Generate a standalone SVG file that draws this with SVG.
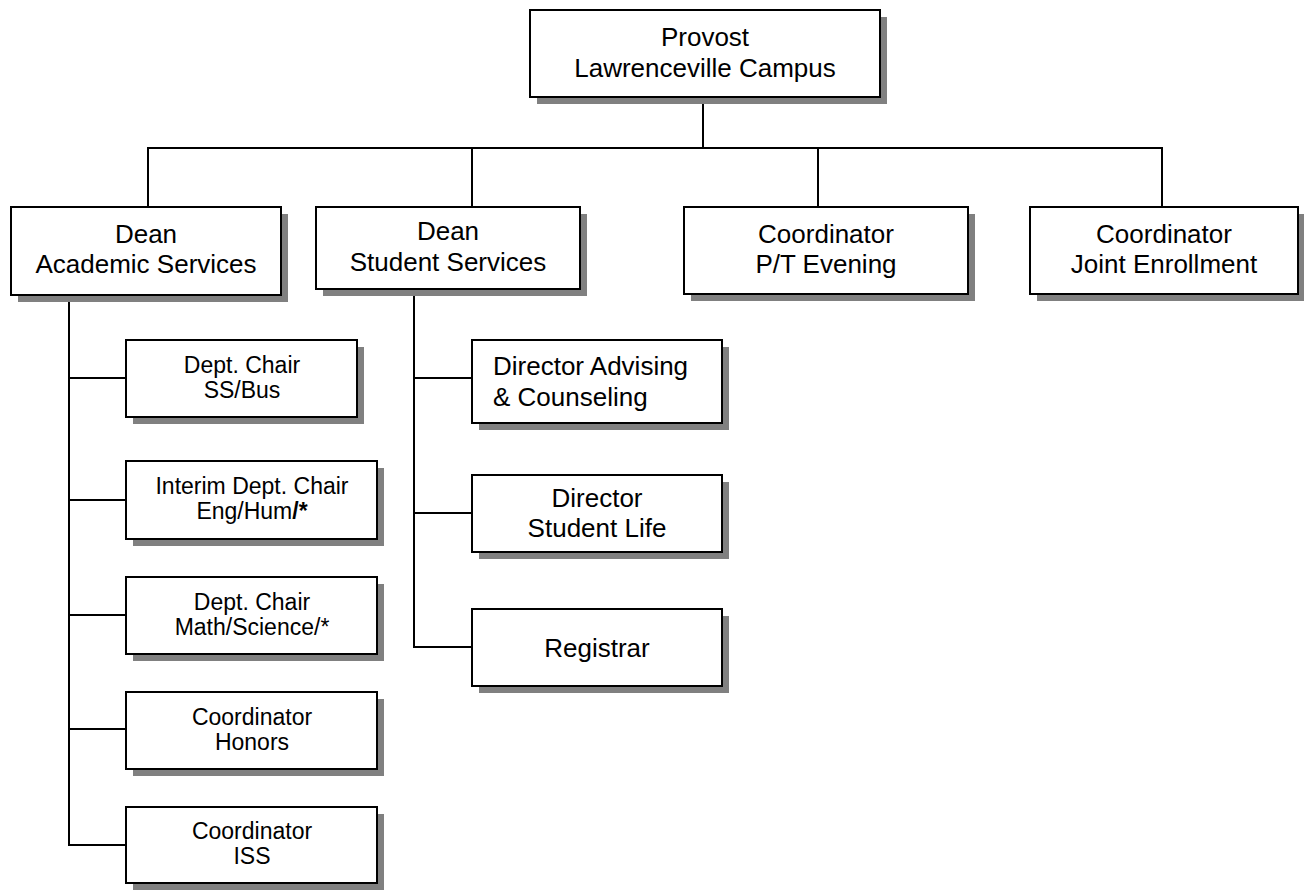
<svg xmlns="http://www.w3.org/2000/svg" width="1304" height="890" viewBox="0 0 1304 890">
<style>
.sh{fill:#808080}
.bx{fill:#fff;stroke:#000;stroke-width:2}
.t{font-family:"Liberation Sans",Arial,sans-serif;font-size:26px;fill:#000;text-anchor:middle}
.s{font-family:"Liberation Sans",Arial,sans-serif;font-size:23px;fill:#000;text-anchor:middle}
.l{text-anchor:start}
#connectors line{stroke:#000;stroke-width:2}
</style>
<rect width="1304" height="890" fill="#fff"/>
<g id="connectors">
<line x1="703" y1="97" x2="703" y2="148"/>
<line x1="147" y1="148" x2="1163" y2="148"/>
<line x1="148" y1="148" x2="148" y2="207"/>
<line x1="472" y1="148" x2="472" y2="207"/>
<line x1="818" y1="148" x2="818" y2="207"/>
<line x1="1162" y1="148" x2="1162" y2="207"/>
<line x1="69" y1="295" x2="69" y2="846"/>
<line x1="68" y1="378" x2="126" y2="378"/>
<line x1="68" y1="500" x2="126" y2="500"/>
<line x1="68" y1="615" x2="126" y2="615"/>
<line x1="68" y1="729" x2="126" y2="729"/>
<line x1="68" y1="845" x2="126" y2="845"/>
<line x1="414" y1="289" x2="414" y2="648"/>
<line x1="413" y1="378" x2="472" y2="378"/>
<line x1="413" y1="513" x2="472" y2="513"/>
<line x1="413" y1="647" x2="472" y2="647"/>
</g>
<g id="provost">
<rect class="sh" x="537" y="17" width="350" height="87"/>
<rect class="bx" x="530" y="10" width="350" height="87"/>
<text class="t" x="705" y="46">Provost</text>
<text class="t" x="705" y="77">Lawrenceville Campus</text>
</g>
<g id="dean-academic">
<rect class="sh" x="18" y="214" width="270" height="88"/>
<rect class="bx" x="11" y="207" width="270" height="88"/>
<text class="t" x="146" y="243">Dean</text>
<text class="t" x="146" y="273">Academic Services</text>
</g>
<g id="dean-student">
<rect class="sh" x="323" y="214" width="264" height="82"/>
<rect class="bx" x="316" y="207" width="264" height="82"/>
<text class="t" x="448" y="240">Dean</text>
<text class="t" x="448" y="271">Student Services</text>
</g>
<g id="coord-pt">
<rect class="sh" x="691" y="214" width="284" height="87"/>
<rect class="bx" x="684" y="207" width="284" height="87"/>
<text class="t" x="826" y="243">Coordinator</text>
<text class="t" x="826" y="273">P/T Evening</text>
</g>
<g id="coord-joint">
<rect class="sh" x="1037" y="214" width="268" height="87"/>
<rect class="bx" x="1030" y="207" width="268" height="87"/>
<text class="t" x="1164" y="243">Coordinator</text>
<text class="t" x="1164" y="273">Joint Enrollment</text>
</g>
<g id="chair-ssbus">
<rect class="sh" x="133" y="347" width="231" height="77"/>
<rect class="bx" x="126" y="340" width="231" height="77"/>
<text class="s" x="242" y="373">Dept. Chair</text>
<text class="s" x="242" y="398">SS/Bus</text>
</g>
<g id="chair-enghum">
<rect class="sh" x="133" y="468" width="251" height="78"/>
<rect class="bx" x="126" y="461" width="251" height="78"/>
<text class="s" x="252" y="494">Interim Dept. Chair</text>
<text class="s" x="252" y="519">Eng/Hum<tspan font-weight="bold">/*</tspan></text>
</g>
<g id="chair-math">
<rect class="sh" x="133" y="584" width="251" height="77"/>
<rect class="bx" x="126" y="577" width="251" height="77"/>
<text class="s" x="252" y="610">Dept. Chair</text>
<text class="s" x="252" y="635">Math/Science/*</text>
</g>
<g id="coord-honors">
<rect class="sh" x="133" y="699" width="251" height="77"/>
<rect class="bx" x="126" y="692" width="251" height="77"/>
<text class="s" x="252" y="725">Coordinator</text>
<text class="s" x="252" y="750">Honors</text>
</g>
<g id="coord-iss">
<rect class="sh" x="133" y="814" width="251" height="76"/>
<rect class="bx" x="126" y="807" width="251" height="76"/>
<text class="s" x="252" y="839">Coordinator</text>
<text class="s" x="252" y="864">ISS</text>
</g>
<g id="dir-advising">
<rect class="sh" x="479" y="347" width="250" height="83"/>
<rect class="bx" x="472" y="340" width="250" height="83"/>
<text class="t l" x="493" y="375">Director Advising</text>
<text class="t l" x="493" y="406">&amp; Counseling</text>
</g>
<g id="dir-studentlife">
<rect class="sh" x="479" y="482" width="250" height="77"/>
<rect class="bx" x="472" y="475" width="250" height="77"/>
<text class="t" x="597" y="507">Director</text>
<text class="t" x="597" y="537">Student Life</text>
</g>
<g id="registrar">
<rect class="sh" x="479" y="616" width="250" height="77"/>
<rect class="bx" x="472" y="609" width="250" height="77"/>
<text class="t" x="597" y="657">Registrar</text>
</g>
</svg>
